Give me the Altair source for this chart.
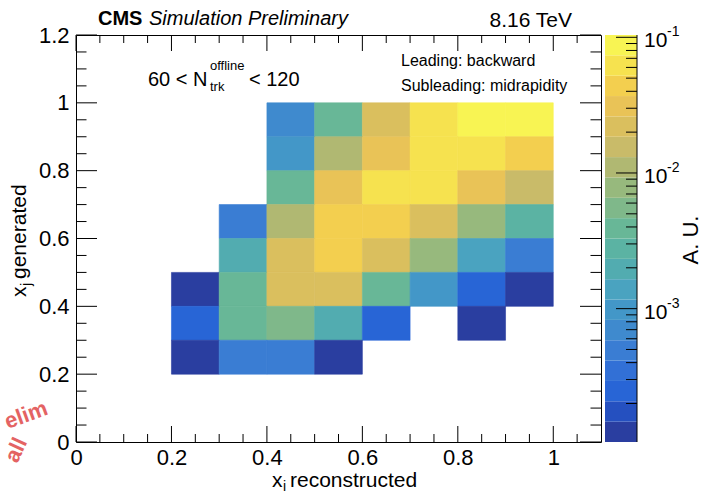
import altair as alt
import numpy as np
import pandas as pd

FONT = "Liberation Sans"

# ---------------- data ----------------
x_bins_lo = [0.2, 0.3, 0.4, 0.5, 0.6, 0.7, 0.8, 0.9]
y_rows_lo = [0.9, 0.8, 0.7, 0.6, 0.5, 0.4, 0.3, 0.2]
bin_w = 0.1

row_y09 = [None, None, 6.9e-4, 3.9e-3, 2.2e-2, 6.2e-2, 8.7e-2, 8.7e-2]
row_y08 = [None, None, 9.8e-4, 1.1e-2, 3.1e-2, 6.2e-2, 6.2e-2, 4.4e-2]
row_y07 = [None, None, 3.9e-3, 3.1e-2, 6.2e-2, 6.2e-2, 3.1e-2, 1.55e-2]
row_y06 = [None, 4.9e-4, 1.1e-2, 4.4e-2, 4.4e-2, 2.2e-2, 7.8e-3, 2.75e-3]
row_y05 = [None, 1.95e-3, 2.2e-2, 4.4e-2, 2.2e-2, 7.8e-3, 1.38e-3, 4.9e-4]
row_y04 = [1.23e-4, 3.9e-3, 2.2e-2, 2.2e-2, 3.9e-3, 9.8e-4, 2.45e-4, 1.23e-4]
row_y03 = [2.45e-4, 3.9e-3, 5.5e-3, 1.95e-3, 2.45e-4, None, 1.23e-4, None]
row_y02 = [1.23e-4, 4.9e-4, 4.9e-4, 1.23e-4, None, None, None, None]
rows = [row_y09, row_y08, row_y07, row_y06, row_y05, row_y04, row_y03, row_y02]

# colour palette of the z axis, bottom to top
palette = ["#2A3EA0", "#2550C0", "#2865D6", "#3270D6", "#3A7DD3", "#3F8ACE",
           "#4397C8", "#4AA3C0", "#52ACB0", "#5BB3A3", "#68B797", "#7FB88A",
           "#97B97D", "#B0B872", "#C9BB69", "#DABF5E", "#E9C357", "#F3CF4F",
           "#F6E24F", "#F8F453"]
z_min, z_max = 1.04e-4, 0.104

x_major = [0, 0.2, 0.4, 0.6, 0.8, 1.0]
x_minor = [0.05, 0.1, 0.15, 0.25, 0.3, 0.35, 0.45, 0.5, 0.55, 0.65, 0.7, 0.75,
           0.85, 0.9, 0.95, 1.05]
y_major = [0, 0.2, 0.4, 0.6, 0.8, 1.0, 1.2]
y_minor = [0.05, 0.1, 0.15, 0.25, 0.3, 0.35, 0.45, 0.5, 0.55, 0.65, 0.7, 0.75,
           0.85, 0.9, 0.95, 1.05, 1.1, 1.15]
z_major = [1e-3, 1e-2, 1e-1]
z_exp = ["-3", "-2", "-1"]
z_minor = [m * 10.0 ** e for e in (-4, -3, -2) for m in range(2, 10)]
z_minor = [v for v in z_minor if z_min <= v <= z_max]

# ---------------- tables ----------------
rec = []
for yl, row in zip(y_rows_lo, rows):
    for xl, v in zip(x_bins_lo, row):
        if v is not None:
            rec.append(dict(xlo=xl, xhi=round(xl + bin_w, 2), ylo=yl,
                            yhi=round(yl + bin_w, 2), v=v))
heat = pd.DataFrame(rec)

edges = list(np.logspace(np.log10(z_min), np.log10(z_max), len(palette) + 1))
thresholds = edges[1:-1]
bands = pd.DataFrame({"lo": edges[:-1], "hi": edges[1:], "c": palette})

W, H = 525, 407
CW = 32

xs = alt.Scale(domain=[0, 1.1], nice=False, zero=False)
ys = alt.Scale(domain=[0, 1.2], nice=False, zero=False)
cscale = alt.Scale(type="threshold", domain=thresholds, range=palette)

x_axis = alt.Axis(values=x_major, format="~g", title=None, ticks=False, domain=False,
                  grid=False, labelFontSize=22, labelPadding=5, labelFont=FONT,
                  labelColor="black", labelFlush=False)
y_axis = alt.Axis(values=y_major, format="~g", title=None, ticks=False, domain=False,
                  grid=False, labelFontSize=22, labelPadding=7, labelFont=FONT,
                  labelColor="black", labelFlush=False)

heatmap = alt.Chart(heat).mark_rect(strokeWidth=0.6).encode(
    x=alt.X("xlo:Q", scale=xs, axis=x_axis), x2="xhi:Q",
    y=alt.Y("ylo:Q", scale=ys, axis=y_axis), y2="yhi:Q",
    color=alt.Color("v:Q", scale=cscale, legend=None),
    stroke=alt.Stroke("v:Q", scale=cscale, legend=None),
)


def xticks(vals, L):
    d = pd.DataFrame({"t": vals})
    b = alt.Chart(d).mark_rule(color="black", strokeWidth=1).encode(
        x=alt.X("t:Q", scale=xs, axis=x_axis), y=alt.value(H), y2=alt.value(H - L))
    t = alt.Chart(d).mark_rule(color="black", strokeWidth=1).encode(
        x=alt.X("t:Q", scale=xs, axis=x_axis), y=alt.value(0), y2=alt.value(L))
    return [b, t]


def yticks(vals, L):
    d = pd.DataFrame({"t": vals})
    l = alt.Chart(d).mark_rule(color="black", strokeWidth=1).encode(
        y=alt.Y("t:Q", scale=ys, axis=y_axis), x=alt.value(0), x2=alt.value(L))
    r = alt.Chart(d).mark_rule(color="black", strokeWidth=1).encode(
        y=alt.Y("t:Q", scale=ys, axis=y_axis), x=alt.value(W), x2=alt.value(W - L))
    return [l, r]


def txt(text, x, y, size=20, align="left", baseline="alphabetic", color="black", **kw):
    return alt.Chart(alt.Data(values=[{}])).mark_text(
        font=FONT, fontSize=size, align=align, baseline=baseline, color=color, **kw
    ).encode(x=alt.value(x), y=alt.value(y), text=alt.value(text))


annotations = [
    txt("CMS", 22, -10, 20, fontWeight="bold"),
    txt("Simulation Preliminary", 73, -10, 20, fontStyle="italic"),
    txt("8.16 TeV", 496, -8, 21, align="right"),
    txt("Leading: backward", 325, 31, 16),
    txt("Subleading: midrapidity", 325, 56, 16),
    txt("60 < N", 72, 51, 20),
    txt("offline", 134, 35, 13),
    txt("trk", 134, 56, 13),
    txt("< 120", 173, 51, 20),
    # x-axis title
    txt("x", 196, 452, 21),
    txt("i", 207, 456, 14),
    txt("reconstructed", 214, 452, 21),
    # y-axis title
    txt("x", -50, 262, 21, angle=270),
    txt("j", -45, 251, 14, angle=270),
    txt("generated", -50, 244, 21, angle=270),
    # faded "preliminary" stamp in the lower-left corner
    txt("elim", -50, 380, 22, align="center", baseline="middle", color="#E04848",
        fontWeight="bold", angle=340, opacity=0.85),
    txt("all", -60, 415, 22, align="center", baseline="middle", color="#E04848",
        fontWeight="bold", angle=295, opacity=0.85),
]

main = alt.layer(
    heatmap,
    *xticks(x_major, 16), *xticks(x_minor, 8),
    *yticks(y_major, 21), *yticks(y_minor, 10.5),
    *annotations,
).properties(width=W, height=H, view=alt.ViewConfig(stroke="black", strokeWidth=1))

# ---------------- colour bar ----------------
cys = alt.Scale(type="log", domain=[z_min, z_max], nice=False)

bar = alt.Chart(bands).mark_rect().encode(
    x=alt.value(0), x2=alt.value(CW),
    y=alt.Y("lo:Q", scale=cys, axis=None), y2="hi:Q",
    color=alt.Color("c:N", scale=None),
)
edge = alt.Chart(alt.Data(values=[{}])).mark_rule(color="black", strokeWidth=1).encode(
    x=alt.value(CW), y=alt.value(0), y2=alt.value(H))


def zticks(vals, L):
    d = pd.DataFrame({"t": vals})
    return alt.Chart(d).mark_rule(color="black", strokeWidth=1).encode(
        y=alt.Y("t:Q", scale=cys, axis=None), x=alt.value(CW - L), x2=alt.value(CW))


zlab = pd.DataFrame({"t": z_major, "e": z_exp})
ten = alt.Chart(zlab).mark_text(font=FONT, fontSize=21, align="left", baseline="middle",
                                dy=4, color="black").encode(
    y=alt.Y("t:Q", scale=cys, axis=None), x=alt.value(39), text=alt.value("10"))
sup = alt.Chart(zlab).mark_text(font=FONT, fontSize=14, align="left", baseline="middle",
                                dy=-5, color="black").encode(
    y=alt.Y("t:Q", scale=cys, axis=None), x=alt.value(62), text="e:N")
au = txt("A. U.", 86, 205, 22, align="center", baseline="middle", angle=270)

cbar = alt.layer(bar, zticks(z_minor, 11), zticks(z_major, 21), edge, ten, sup, au).properties(
    width=CW, height=H, view=alt.ViewConfig(stroke="transparent"))

chart = alt.hconcat(main, cbar, spacing=2).properties(
    padding={"left": 0, "top": 8, "right": 0, "bottom": 0},
    background="white",
)

chart.save("out.html", embed_options={"renderer": "svg", "actions": False})
